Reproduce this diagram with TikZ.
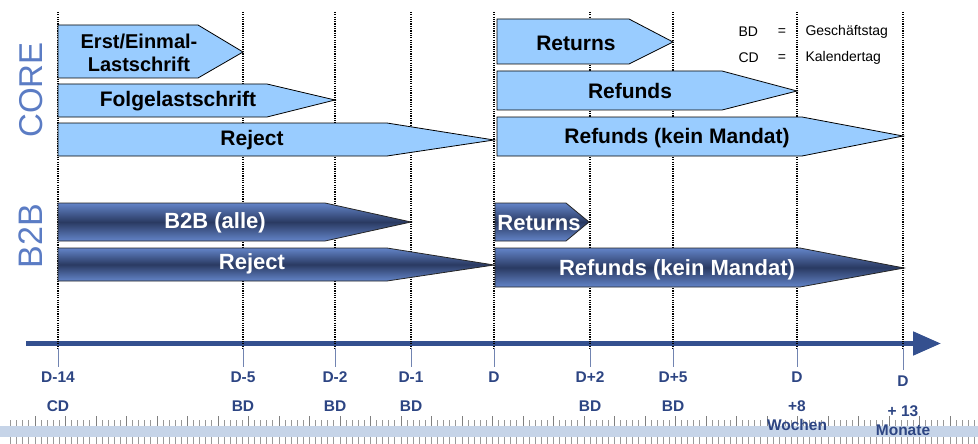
\documentclass[tikz,border=0pt]{standalone}
\usepackage{fontspec}
\setmainfont{Liberation Sans}
\usetikzlibrary{positioning,calc,arrows.meta}
\definecolor{corefill}{HTML}{99CCFF}
\definecolor{b2blight}{HTML}{6384C8}
\definecolor{b2bdark}{HTML}{2A3A62}
\definecolor{labelblue}{HTML}{2D4583}
\definecolor{sideblue}{HTML}{5B7CC4}
\definecolor{axisblue}{HTML}{34508F}
\definecolor{rulerband}{HTML}{C6D4E8}

\begin{document}
\begin{tikzpicture}[x=1pt,y=-1pt,
    corebar/.style={draw=black,line width=0.8pt,fill=corefill},
    b2bbar/.style={draw=black!85,line width=0.8pt,top color=b2blight,bottom color=b2blight,middle color=b2bdark},
    barlabel/.style={font=\fontsize{21}{24}\selectfont\bfseries},
    b2blabel/.style={font=\fontsize{22}{24}\selectfont\bfseries,text=white},
    gridline/.style={line width=1.3pt,dash pattern=on 1.2pt off 1.1pt},
    markline/.style={line width=0.8pt,draw=axisblue!70},
    timelabel/.style={font=\fontsize{15.5}{17}\selectfont\bfseries,text=labelblue},
    legendtext/.style={font=\fontsize{14}{16}\selectfont,anchor=west}]
    \useasboundingbox (0,0) rectangle (978,444);
    % ruler at the bottom
    \fill[rulerband] (0,426) rectangle (978,437);
    \foreach \k in {0,...,159}{
        \pgfmathsetmacro{\tx}{10.4+6.1*\k}
        \pgfmathtruncatemacro{\big}{mod(\k,5)==4}
        \ifnum\big=1
            \draw[gray,line width=0.6pt] (\tx,416) -- (\tx,426);
        \else
            \draw[gray!80,line width=0.6pt] (\tx,420) -- (\tx,426);
        \fi
        \draw[gray!80,line width=0.6pt] (\tx,437) -- (\tx,444);
    }
    % time axis
    \coordinate (axis-start) at (26,343.5);
    \coordinate (axis-end) at (941,343.5);
    \draw[axisblue,line width=5pt,-{Triangle[length=28pt,width=23pt]}] (axis-start) -- (axis-end);
    % dotted lines for the deadlines
    \foreach \n/\x/\e in {m14/58/367,m5/243/367,m2/335/367,m1/411/367,d0/494/367,p2/590/367,p5/673/367,w8/797/367,m13/903/370}{
        \coordinate (top-\n) at (\x,12);
        \coordinate (bot-\n) at (\x,348);
        \coordinate (end-\n) at (\x,\e);
        \draw[gridline] (top-\n) -- (bot-\n);
        \draw[markline] (bot-\n) -- (end-\n);
    }
    % CORE
    \draw[corebar] (58,25) -- (198,25) -- (243,52) -- (198,78) -- (58,78) -- cycle;
    \draw[corebar] (58,84) -- (267,84) -- (335,100) -- (267,117) -- (58,117) -- cycle;
    \draw[corebar] (58,123) -- (387,123) -- (494,140) -- (387,156) -- (58,156) -- cycle;
    \draw[corebar] (497,19) -- (629,19) -- (673,42) -- (629,64) -- (497,64) -- cycle;
    \draw[corebar] (497,71) -- (722,71) -- (797,91) -- (722,110) -- (497,110) -- cycle;
    \draw[corebar] (497,117) -- (802,117) -- (903,136) -- (802,156) -- (497,156) -- cycle;
    \node[barlabel,align=center,font=\fontsize{20}{23}\selectfont\bfseries] (erst) at (139,53) {Erst/Einmal-\\Lastschrift};
    \node[barlabel] (folge) at (178,101) {Folgelastschrift};
    \node[barlabel] (core-reject) at (252,140) {Reject};
    \node[barlabel] (core-returns) at (576,43) {Returns};
    \node[barlabel] (core-refunds) at (630,91) {Refunds};
    \node[barlabel] (core-nomandate) at (677,138) {Refunds (kein Mandat)};
    % B2B
    \draw[b2bbar] (58,203) -- (325,203) -- (411,222) -- (325,241) -- (58,241) -- cycle;
    \draw[b2bbar] (58,248) -- (387,248) -- (494,265) -- (387,281) -- (58,281) -- cycle;
    \draw[b2bbar] (495,203) -- (566,203) -- (589,222) -- (566,241) -- (495,241) -- cycle;
    \draw[b2bbar] (495,248) -- (800,248) -- (904,268) -- (800,287) -- (495,287) -- cycle;
    \node[b2blabel] (b2b-all) at (215,223) {B2B (alle)};
    \node[b2blabel] (b2b-reject) at (252,264) {Reject};
    \node[b2blabel] (b2b-returns) at (539,223) {Returns};
    \node[b2blabel] (b2b-nomandate) at (677,270) {Refunds (kein Mandat)};
    % side titles
    \node[rotate=90,text=sideblue,font=\fontsize{33}{36}\selectfont] (core) at (31,90) {CORE};
    \node[rotate=90,text=sideblue,font=\fontsize{34}{36}\selectfont] (b2b) at (31,236) {B2B};
    % legend
    \node[legendtext] (bd) at (735,32) {BD};
    \node[legendtext] (cd) at (735,58) {CD};
    \node[legendtext,anchor=center] (eq-bd) at (782,32) {=};
    \node[legendtext,anchor=center] (eq-cd) at (782,58) {=};
    \node[legendtext] (bd-text) at (802,32) {Geschäftstag};
    \node[legendtext] (cd-text) at (802,58) {Kalendertag};
    % labels under the axis
    \foreach \n/\t in {m14/D-14,m5/D-5,m2/D-2,m1/D-1,d0/D,p2/D+2,p5/D+5,w8/D}
        \node[timelabel] (lab-\n) at ($(end-\n)+(0,10)$) {\t};
    \node[timelabel] (lab-m13) at (903,381) {D};
    \foreach \n/\t in {m14/CD,m5/BD,m2/BD,m1/BD,p2/BD,p5/BD,w8/+8}
        \node[timelabel] (unit-\n) at (lab-\n |- 0,406) {\t};
    \node[timelabel] (unit-m13) at (903,411) {+ 13};
    \node[timelabel] (weeks) at (797,425) {Wochen};
    \node[timelabel] (months) at (903,430) {Monate};
\end{tikzpicture}
\end{document}
